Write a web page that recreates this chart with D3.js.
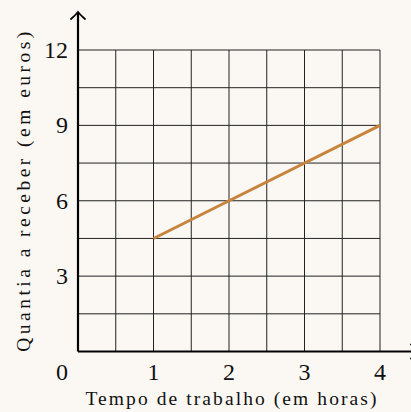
<!DOCTYPE html>
<html><head><meta charset="utf-8">
<script src="https://cdn.jsdelivr.net/npm/d3@7"></script>
<style>
html,body{margin:0;padding:0;background:#fbf8f3;}
svg{display:block;}
text{font-family:"Liberation Serif","DejaVu Serif",serif;fill:#111;}
</style></head>
<body>
<svg id="c" width="411" height="412"></svg>
<script>
const xTicks = [1, 2, 3, 4];
const yTicks = [3, 6, 9, 12];
const xGrid = [0.5, 1, 1.5, 2, 2.5, 3, 3.5, 4];
const yGrid = [1.5, 3, 4.5, 6, 7.5, 9, 10.5, 12];
const lineX = [1, 4];
const lineY = [4.5, 9];
const xLabel = "Tempo de trabalho (em horas)";
const yLabel = "Quantia a receber (em euros)";

const svg = d3.select("#c");
const x = d3.scaleLinear().domain([0, 4]).range([78, 380]);
const y = d3.scaleLinear().domain([0, 12]).range([351.5, 50]);

// grid
const g = svg.append("g").attr("stroke", "#222").attr("stroke-width", 1);
xGrid.forEach(v => g.append("line").attr("x1", x(v)).attr("x2", x(v)).attr("y1", y(0)).attr("y2", y(12)));
yGrid.forEach(v => g.append("line").attr("x1", x(0)).attr("x2", x(4)).attr("y1", y(v)).attr("y2", y(v)));

// data line
const pts = lineX.map((v, i) => [v, lineY[i]]);
svg.append("path").attr("d", d3.line().x(d => x(d[0])).y(d => y(d[1]))(pts))
  .attr("fill", "none").attr("stroke", "#c8843c").attr("stroke-width", 2.8);

// axes
const ax = svg.append("g").attr("stroke", "#000").attr("stroke-width", 2.2).attr("fill", "none");
ax.append("line").attr("x1", x(0)).attr("x2", 416).attr("y1", y(0)).attr("y2", y(0));
ax.append("line").attr("x1", x(0)).attr("x2", x(0)).attr("y1", y(0)).attr("y2", 13);
const ty = 12, tx = x(0);
ax.append("path").attr("stroke-width", 1.8).attr("stroke-linecap", "round")
  .attr("d", `M${tx-7},${ty+7} Q${tx-2},${ty+2.5} ${tx},${ty} Q${tx+2},${ty+2.5} ${tx+7},${ty+7}`);
const hx = 418, hy = y(0);
ax.append("path").attr("stroke-width", 1.8).attr("stroke-linecap", "round")
  .attr("d", `M${hx-7},${hy-7} Q${hx-2.5},${hy-2} ${hx},${hy} Q${hx-2.5},${hy+2} ${hx-7},${hy+7}`);

// tick labels
const fs = 24;
svg.append("text").attr("x", 62).attr("y", 380).attr("text-anchor", "middle").attr("font-size", fs).text("0");
xTicks.forEach(v => svg.append("text").attr("x", x(v)).attr("y", 380).attr("text-anchor", "middle").attr("font-size", fs).text(v));
yTicks.forEach(v => svg.append("text").attr("x", 68).attr("y", y(v) + 8).attr("text-anchor", "end").attr("font-size", fs).text(v));

// axis labels, spaced to reference widths
function fit(sel, w) {
  const l = sel.node().getComputedTextLength();
  const n = sel.text().length;
  sel.attr("letter-spacing", (w - l) / (n - 1));
}
const xl = svg.append("text").attr("x", 232).attr("y", 405).attr("text-anchor", "middle").attr("font-size", 19.5).text(xLabel);
fit(xl, 291);
const yl = svg.append("text").attr("transform", "translate(30,190) rotate(-90)").attr("text-anchor", "middle").attr("font-size", 19.5).text(yLabel);
fit(yl, 320);
</script>
</body></html>
